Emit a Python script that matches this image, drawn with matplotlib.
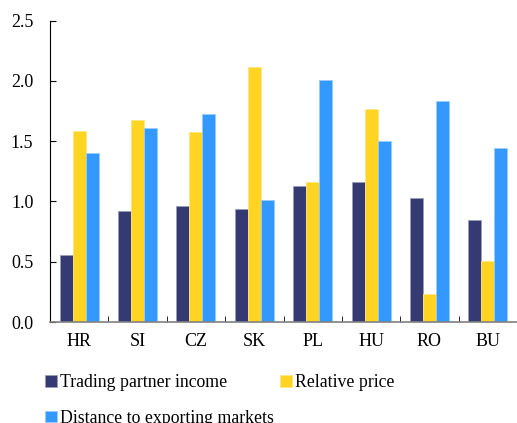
import numpy as np
import matplotlib.pyplot as plt

countries = ['HR', 'SI', 'CZ', 'SK', 'PL', 'HU', 'RO', 'BU']
income = [0.56, 0.92, 0.96, 0.94, 1.13, 1.16, 1.03, 0.85]
rel_price = [1.585, 1.675, 1.58, 2.115, 1.16, 1.77, 0.23, 0.51]
distance = [1.405, 1.61, 1.73, 1.01, 2.01, 1.50, 1.83, 1.44]

plt.rcParams['font.family'] = ['Liberation Serif', 'DejaVu Serif']

fig = plt.figure(figsize=(5.17, 4.23), dpi=100)
ax = fig.add_axes([50/517, 101/423, 467/517, 301.3/423])

x = np.arange(len(countries))
w = 0.222
b1 = ax.bar(x - w, income, w, color='#363a73', edgecolor='#9a9cc0', linewidth=0.6, label='Trading partner income')
b2 = ax.bar(x, rel_price, w, color='#ffd422', edgecolor='#ffe680', linewidth=0.6, label='Relative price')
b3 = ax.bar(x + w, distance, w, color='#3399ff', edgecolor='#99ccff', linewidth=0.6, label='Distance to exporting markets')

ax.set_xlim(-0.5, len(countries) - 0.5)
ax.set_ylim(0, 2.5)
ax.set_yticks(np.arange(0, 2.51, 0.5))
ax.set_yticklabels(['%.1f' % v for v in np.arange(0, 2.51, 0.5)], fontsize=13)
ax.set_xticks(x)
ax.set_xticklabels(countries, fontsize=13)
ax.set_xticks(np.arange(0.5, len(countries) - 0.5, 1), minor=True)
ax.tick_params(axis='x', which='major', length=0, pad=8)
ax.tick_params(axis='x', which='minor', direction='in', length=4, color='black')
ax.tick_params(axis='y', direction='in', length=4, pad=12)

ax.spines['top'].set_visible(False)
ax.spines['right'].set_visible(False)
ax.spines['left'].set_color('black')
ax.spines['bottom'].set_color('#808080')
ax.spines['bottom'].set_linewidth(1.2)

fig.legend([b1, b3, b2], [b1.get_label(), b3.get_label(), b2.get_label()],
           loc='upper left', bbox_to_anchor=(38/517, 1 - 367/423), ncol=2,
           frameon=False, fontsize=12.8, handlelength=0.65, handleheight=0.65,
           handletextpad=0.2, columnspacing=0.35, labelspacing=1.05, borderaxespad=0)

fig.savefig('out.png', dpi=100)
